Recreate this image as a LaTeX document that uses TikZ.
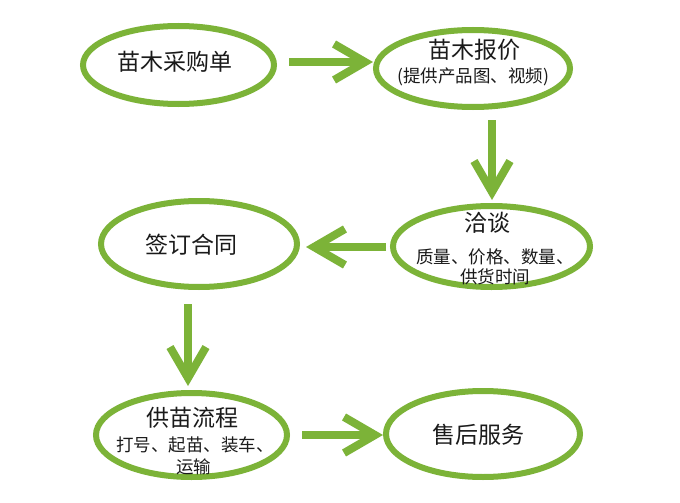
\documentclass[tikz,border=0pt]{standalone}
\usepackage{fontspec}
\newfontfamily\cjk{Noto Sans CJK SC}
\usetikzlibrary{shapes.geometric,arrows.meta,calc}
\definecolor{leaf}{RGB}{124,179,56}
\definecolor{ink}{RGB}{26,26,26}
\begin{document}
\begin{tikzpicture}[x=1pt,y=-1pt,
  oval/.style={ellipse,draw=leaf,line width=6pt,inner sep=0pt},
  maintxt/.style={text=ink,font=\cjk\fontsize{23}{26}\selectfont,inner sep=0pt},
  subtxt/.style={text=ink,font=\cjk\fontsize{17.5}{20}\selectfont,inner sep=0pt},
  arr/.style={draw=leaf,line width=8pt,-{Straight Barb[length=31pt,width=36pt]}}]
\useasboundingbox[fill=white] (0,0) rectangle (680,503);
% ovals
\node[oval,minimum width=191pt,minimum height=78pt] (e1) at (178.5,65) {};
\node[oval,minimum width=194pt,minimum height=77pt] (e2) at (473,68.5) {};
\node[oval,minimum width=197pt,minimum height=81pt] (e3) at (491.5,246.5) {};
\node[oval,minimum width=196pt,minimum height=86pt] (e4) at (199,244) {};
\node[oval,minimum width=191pt,minimum height=84pt] (e5) at (191.5,435) {};
\node[oval,minimum width=194pt,minimum height=86pt] (e6) at (483,434) {};
% texts
\node[maintxt] (t1) at (175,62) {苗木采购单};
\node[maintxt] (t2) at (474,50) {苗木报价};
\node[subtxt] (t2b) at (473,77) {(提供产品图、视频)};
\node[maintxt] (t3) at (487,223) {洽谈};
\node[subtxt] (t3b) at (495,257) {质量、价格、数量、};
\node[subtxt] (t3c) at (495,277) {供货时间};
\node[maintxt] (t4) at (191.5,245) {签订合同};
\node[maintxt] (t5) at (192,418) {供苗流程};
\node[subtxt] (t5b) at (195,445) {打号、起苗、装车、};
\node[subtxt] (t5c) at (193.5,467) {运输};
\node[maintxt] (t6) at (478.5,435) {售后服务};
% arrows
\draw[arr] ($(e1.east)+(12,-3)$) -- ($(e2.west)+(0,-6.5)$);
\draw[arr] ($(e2.south)+(19,10)$) -- ($(e3.north)+(0.5,-3)$);
\draw[arr] ($(e3.west)+(-4,0.5)$) -- ($(e4.east)+(6,3)$);
\draw[arr] ($(e4.south)+(-11,14)$) -- ($(e5.north)+(-3.5,-4)$);
\draw[arr] ($(e5.east)+(12,0)$) -- ($(e6.west)+(0,1)$);
\end{tikzpicture}
\end{document}
